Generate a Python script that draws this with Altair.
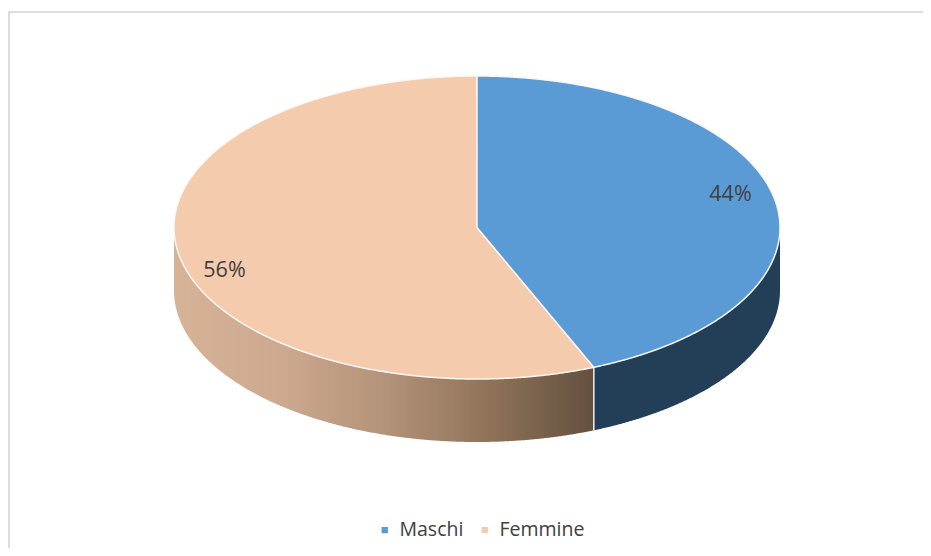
import numpy as np
import pandas as pd
import altair as alt

# --- chart values ---
categories = ["Maschi", "Femmine"]
shares = [43.7, 56.3]          # angular shares
labels = ["44%", "56%"]
colors = ["#5B9BD5", "#F5CBAD"]

# --- pie geometry (page pixels) ---
CX, CY, RX, RY, DEPTH = 477.0, 227.5, 303.0, 151.5, 63.0
W, H = 915, 540


def upper(x):
    return CY - RY * np.sqrt(np.clip(1 - ((x - CX) / RX) ** 2, 0, 1))


def lower(x):
    return CY + RY * np.sqrt(np.clip(1 - ((x - CX) / RX) ** 2, 0, 1))


split = np.radians(shares[0] * 3.6)
XS = CX + RX * np.sin(split)
YS = CY - RY * np.cos(split)


def radial(x):
    return CY + (YS - CY) * (x - CX) / (XS - CX)


a = np.linspace(0, np.pi, 721)
all_x = CX - RX * np.cos(a)
all_x = np.unique(np.concatenate([all_x, [CX, XS]]))

rx_m = all_x[all_x >= CX]
rx_f = all_x[all_x <= XS]

top_m = pd.DataFrame({
    "x": rx_m, "y": upper(rx_m),
    "y2": np.where(rx_m <= XS, radial(rx_m), lower(rx_m)),
    "cat": categories[0],
})
top_f = pd.DataFrame({
    "x": rx_f,
    "y": np.where(rx_f <= CX, upper(rx_f), radial(rx_f)),
    "y2": lower(rx_f),
    "cat": categories[1],
})

xw_m = all_x[all_x >= XS]
xw_f = rx_f
wall_m = pd.DataFrame({"x": xw_m, "y": lower(xw_m) - 2, "y2": lower(xw_m) + DEPTH})
wall_f = pd.DataFrame({"x": xw_f, "y": lower(xw_f) - 2, "y2": lower(xw_f) + DEPTH})

xs = alt.Scale(domain=[8, 8 + W], range=[0, W])
ys = alt.Scale(domain=[8 + H, 8])
X = alt.X("x:Q", scale=xs, axis=None)
Y = alt.Y("y:Q", scale=ys, axis=None)

frame_left = alt.Chart(pd.DataFrame({"x": [9], "y": [12], "y2": [8 + H]})).mark_rule(
    color="#DDDDDD", strokeWidth=2
).encode(x=X, y=Y, y2="y2:Q")
frame_top = alt.Chart(pd.DataFrame({"x": [8], "x2": [8 + W], "y": [12]})).mark_rule(
    color="#DDDDDD", strokeWidth=2
).encode(x=X, x2="x2:Q", y=Y)

side_m = alt.Chart(wall_m).mark_area(color="#223F57").encode(
    x=X, y=Y, y2="y2:Q"
)
side_f = alt.Chart(wall_f).mark_area(
    color=alt.Gradient(
        gradient="linear", x1=0, x2=1, y1=0, y2=0,
        stops=[
            alt.GradientStop(color="#D6B297", offset=0),
            alt.GradientStop(color="#CDA98F", offset=0.25),
            alt.GradientStop(color="#B39379", offset=0.5),
            alt.GradientStop(color="#8F7359", offset=0.75),
            alt.GradientStop(color="#64503F", offset=1),
        ],
    )
).encode(x=X, y=Y, y2="y2:Q")

divider = alt.Chart(pd.DataFrame({"x": [XS], "y": [YS], "y2": [YS + DEPTH]})).mark_rule(
    color="#F2EEEA", strokeWidth=1.5
).encode(x=X, y=Y, y2="y2:Q")

color = alt.Color(
    "cat:N",
    scale=alt.Scale(domain=categories, range=colors),
    legend=alt.Legend(
        title=None, orient="none", direction="horizontal",
        legendX=367, legendY=512,
        symbolType="square", symbolSize=40, symbolStrokeWidth=0,
        labelFont="Open Sans", labelFontSize=19.5, labelColor="#404040",
        columnPadding=11, labelOffset=5, padding=0,
    ),
)
tops = [
    alt.Chart(d).mark_area(stroke="#FBF7F4", strokeWidth=1.5).encode(
        x=X, y=Y, y2="y2:Q", color=color
    )
    for d in (top_f, top_m)
]

text_pos = pd.DataFrame({
    "x": [730.5, 224.5],
    "y": [195.0, 271.0],
    "label": labels,
})
text = alt.Chart(text_pos).mark_text(
    font="Open Sans", fontSize=21.5, color="#404040"
).encode(x=X, y=Y, text="label:N")

chart = alt.layer(
    frame_left, frame_top, side_m, side_f, divider, *tops, text
).properties(
    width=W, height=H, padding=0, autosize=alt.AutoSizeParams(type="none"),
    background="white",
).configure_view(stroke=None)

chart.save("out.html", embed_options={"renderer": "svg", "actions": False})
